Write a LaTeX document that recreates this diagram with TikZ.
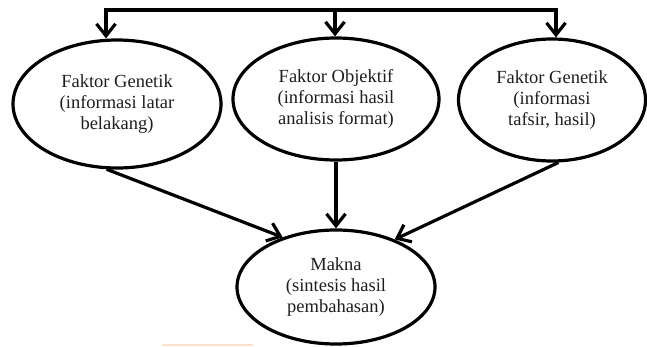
\documentclass[tikz,border=0pt]{standalone}
\usepackage{fontspec}
\setmainfont{Liberation Serif}
\usetikzlibrary{arrows.meta,shapes.geometric}
\definecolor{peach}{HTML}{FBE2CC}
\definecolor{ink}{HTML}{1E1E1E}
\tikzset{
  oval/.style={ellipse, draw=black, line width=3.2pt, inner sep=0pt,
    align=center, text=ink, font=\fontsize{18.5}{21}\selectfont},
  link/.style={draw=black, line width=3.2pt, line join=miter},
  arr/.style={link, -{Straight Barb[length=12pt,width=19pt]}},
}
\begin{document}
\begin{tikzpicture}[x=1pt,y=-1pt]
  \useasboundingbox (0,0) rectangle (647,346);

  % factor ellipses
  \node[oval, minimum width=208pt, minimum height=128pt] (g1) at (117,104)
    {Faktor Genetik\\(informasi latar\\belakang)};
  \node[oval, minimum width=206pt, minimum height=122pt] (g2) at (336,99)
    {Faktor Objektif\\(informasi hasil\\analisis format)};
  \node[oval, minimum width=187pt, minimum height=122pt] (g3) at (552,100)
    {Faktor Genetik\\(informasi\\tafsir, hasil)};

  % result ellipse
  \node[oval, minimum width=198pt, minimum height=114pt] (m) at (336,287)
    {Makna\\(sintesis hasil\\pembahasan)};

  % top distribution bar
  \coordinate (tl) at (106,10);
  \coordinate (tm) at (335,10);
  \coordinate (tr) at (556,10);
  \draw[arr] (tr) -- (tl) -- (g1.north -| tl);
  \draw[arr] (tl) -- (tr) -- (g3.north -| tr);
  \draw[arr] (tm) -- (g2.north -| tm);

  % converging arrows
  \draw[arr] (g1.-99) -- (m.137);
  \draw[arr] (g2.south) -- (m.north);
  \draw[arr] (g3.-84) -- (m.39);

  % faint mark at the lower edge
  \draw[peach, line width=1.6pt] (162,345) -- (253,345);
\end{tikzpicture}
\end{document}
